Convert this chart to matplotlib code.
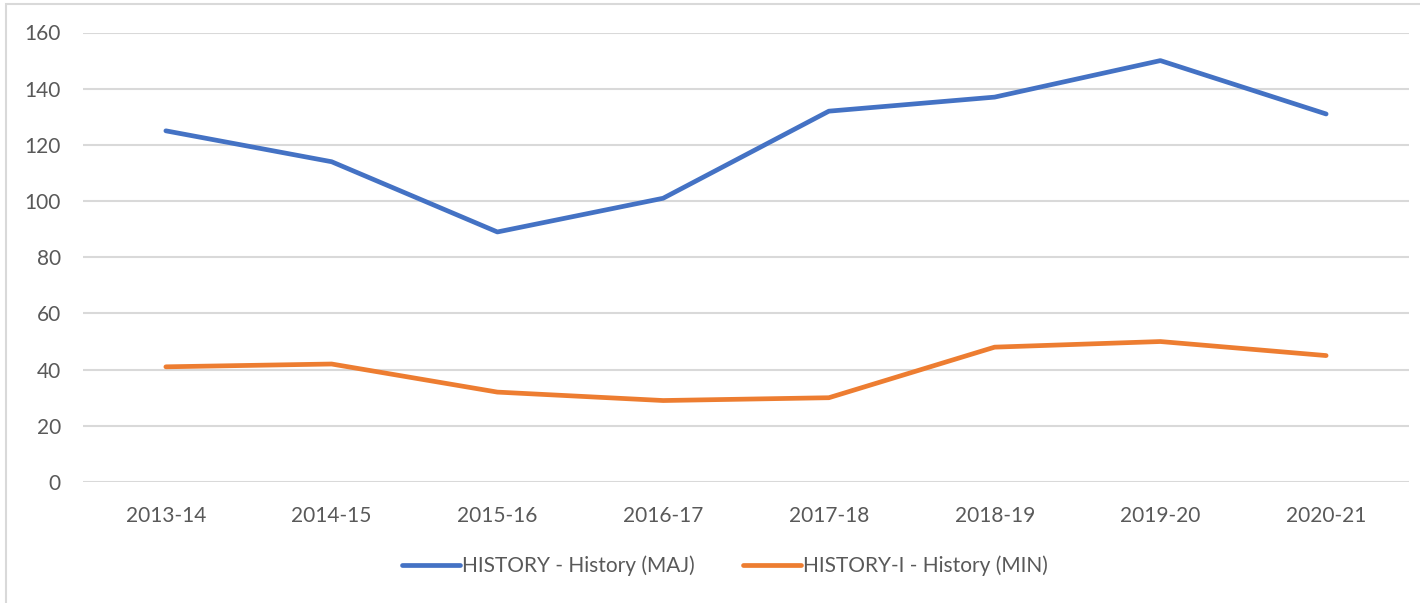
import matplotlib
matplotlib.use("Agg")
import matplotlib.pyplot as plt
from matplotlib.patches import Rectangle

years = ["2013-14", "2014-15", "2015-16", "2016-17", "2017-18", "2018-19", "2019-20", "2020-21"]
history_maj = [125, 114, 89, 101, 132, 137, 150, 131]
history_min = [41, 42, 32, 29, 30, 48, 50, 45]
series_names = ["HISTORY - History (MAJ)", "HISTORY-I - History (MIN)"]

plt.rcParams["font.family"] = ["Lato", "DejaVu Sans"]
text_color = "#595959"

fig = plt.figure(figsize=(14.2, 6.03), dpi=100)
ax = fig.add_axes([83 / 1420, 1 - 482 / 603, (1409 - 83) / 1420, (482 - 32.5) / 603])

x = range(len(years))
ax.plot(x, history_maj, color="#4472C4", lw=3.4, solid_capstyle="round", label=series_names[0])
ax.plot(x, history_min, color="#ED7D31", lw=3.4, solid_capstyle="round", label=series_names[1])

ax.set_xlim(-0.5, len(years) - 0.5)
ax.set_ylim(0, 160)
ax.set_yticks(range(0, 161, 20))
ax.set_xticks(list(x))
ax.set_xticklabels(years)
ax.grid(axis="y", color="#D9D9D9", lw=1.5)
ax.set_axisbelow(True)
for s in ax.spines.values():
    s.set_visible(False)
ax.tick_params(length=0, labelsize=15, colors=text_color)
ax.tick_params(axis="y", pad=16)
ax.tick_params(axis="x", pad=17)

leg = fig.legend(loc="center", bbox_to_anchor=(725 / 1420, 1 - 566 / 603), ncol=2, frameon=False,
                 fontsize=15, handlelength=2.8, handletextpad=0.1, columnspacing=2.3)
for t in leg.get_texts():
    t.set_color(text_color)

fig.patches.append(Rectangle((6 / 1420, -0.05), 1.1, 1 - 4 / 603 + 0.05, transform=fig.transFigure,
                             fill=False, edgecolor="#D9D9D9", lw=1.5))

fig.savefig("out.png", dpi=100)
